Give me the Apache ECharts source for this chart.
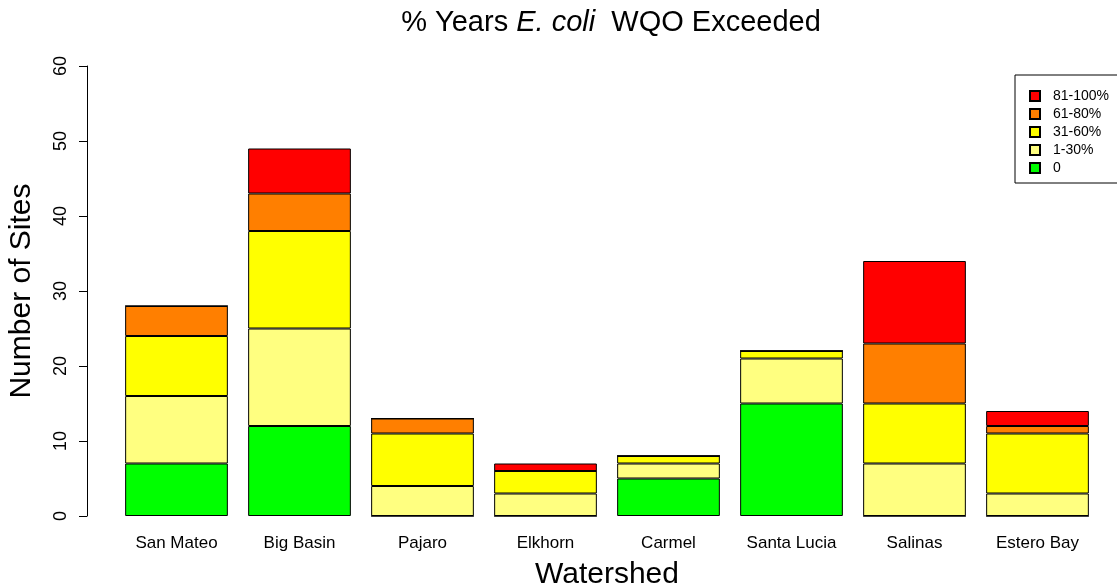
<!DOCTYPE html>
<html><head><meta charset="utf-8">
<script src="https://cdn.jsdelivr.net/npm/echarts@6/dist/echarts.min.js"></script>
<style>html,body{margin:0;padding:0;background:#fff}#c{width:1117px;height:587px}</style>
</head><body><div id="c"></div>
<script>
const categories = ['San Mateo','Big Basin','Pajaro','Elkhorn','Carmel','Santa Lucia','Salinas','Estero Bay'];
const zeroPct   = [7, 12, 0, 0, 5, 15, 0, 0];
const pct1to30  = [9, 13, 4, 3, 2, 6, 7, 3];
const pct31to60 = [8, 13, 7, 3, 1, 1, 8, 8];
const pct61to80 = [4, 5, 2, 0, 0, 0, 8, 1];
const pct81to100= [0, 6, 0, 1, 0, 0, 11, 2];
const seriesNames = ['0','1-30%','31-60%','61-80%','81-100%'];
const seriesColors = ['#00FF00','#FFFF80','#FFFF00','#FF7F00','#FF0000'];
const yTicks = [0,10,20,30,40,50,60];

const font = '"Liberation Sans", Arial, sans-serif';
const dataSets = [zeroPct, pct1to30, pct31to60, pct61to80, pct81to100];
const chart = echarts.init(document.getElementById('c'));
chart.setOption({
  animation: false,
  title: {
    text: '{n|% Years }{i|E. coli}{n|  WQO Exceeded}',
    left: 606, top: 3, textAlign: 'center',
    textStyle: { fontWeight: 'normal', rich: {
      n: { fontSize: 29, fontFamily: font, fontWeight: 'normal', color: '#000' },
      i: { fontSize: 29, fontFamily: font, fontWeight: 'normal', fontStyle: 'italic', color: '#000' }
    }}
  },
  legend: {
    orient: 'vertical', left: 1015, top: 75,
    data: seriesNames.slice().reverse(),
    itemWidth: 10, itemHeight: 10, itemGap: 4,
    padding: [14, 40, 8, 14],
    borderColor: '#000', borderWidth: 1,
    icon: 'rect',
    textStyle: { fontSize: 14, fontFamily: font, color: '#000', padding: [0,0,0,8] }
  },
  grid: { left: 115, width: 984, top: 66, height: 450, containLabel: false, outerBoundsMode: 'none' },
  xAxis: {
    type: 'category', data: categories,
    axisLine: { show: false }, axisTick: { show: false },
    axisLabel: { fontSize: 17, fontFamily: font, color: '#000', margin: 19 },
    name: 'Watershed', nameLocation: 'middle', nameGap: 44,
    nameTextStyle: { fontSize: 30, fontFamily: font, color: '#000' }
  },
  yAxis: {
    type: 'value', min: 0, max: 60, interval: 10, offset: 28,
    axisLine: { show: true, lineStyle: { color: '#000', width: 1 } },
    axisTick: { show: true, length: 8, lineStyle: { color: '#000' } },
    splitLine: { show: false },
    axisLabel: { fontSize: 18, fontFamily: font, color: '#000', rotate: 90, margin: 17,
      formatter: v => yTicks.includes(v) ? String(v) : '' },
    name: 'Number of Sites', nameLocation: 'middle', nameGap: 50,
    nameTextStyle: { fontSize: 30, fontFamily: font, color: '#000' }
  },
  series: dataSets.map((d, i) => ({
    name: seriesNames[i], type: 'bar', stack: 'total', data: d,
    barCategoryGap: '16.5%',
    itemStyle: { color: seriesColors[i], borderColor: '#000', borderWidth: 1 }
  }))
});
</script></body></html>
